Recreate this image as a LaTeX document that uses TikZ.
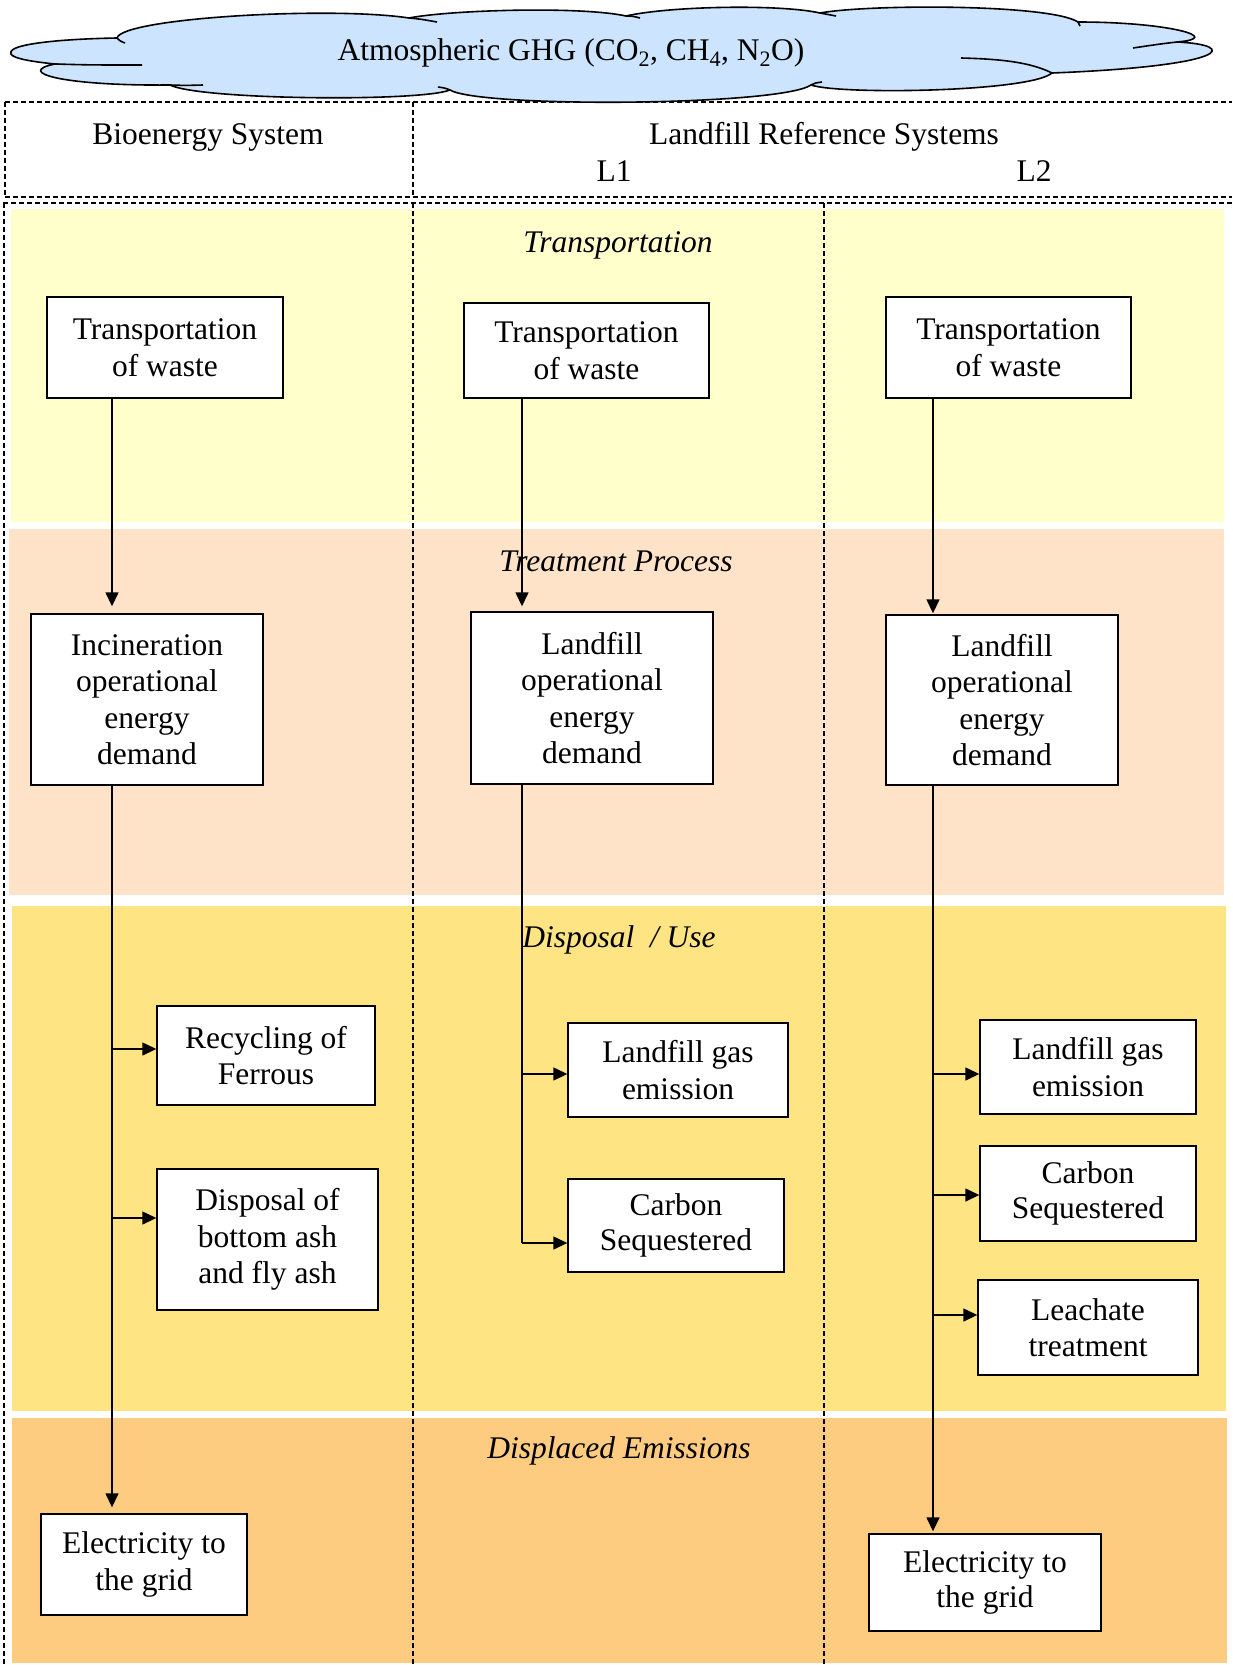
\documentclass[tikz,border=0pt]{standalone}
\usepackage{fontspec}
\setmainfont{Liberation Serif}
\usetikzlibrary{arrows.meta}
\definecolor{bandA}{RGB}{255,255,204}
\definecolor{bandB}{RGB}{254,227,201}
\definecolor{bandC}{RGB}{254,228,130}
\definecolor{bandD}{RGB}{254,204,128}
\definecolor{cloudblue}{RGB}{204,228,253}
\begin{document}
\begin{tikzpicture}[x=1pt,y=-1pt,
 box/.style={draw, fill=white, line width=1.4pt, align=center, inner sep=0pt, font=\fontsize{31.5}{36.5}\selectfont},
 lbl/.style={font=\fontsize{31.5}{36.5}\selectfont\itshape, inner sep=0pt},
 hdr/.style={font=\fontsize{31.5}{36.5}\selectfont, inner sep=0pt},
 arr/.style={line width=1.4pt, -{Triangle[length=14pt,width=13pt]}},
 ln/.style={line width=1.4pt},
 dline/.style={line width=1.2pt, dash pattern=on 5pt off 3pt},
 cloudline/.style={line width=1.6pt},
]
\useasboundingbox (0,0) rectangle (1232,1665);

% bands
\fill[bandA] (11,209) rectangle (1224,522);
\fill[bandB] (9,529) rectangle (1224,895);
\fill[bandC] (12,906) rectangle (1226,1411);
\fill[bandD] (12,1418) rectangle (1227,1663);

% dashed frames
\draw[dline] (5,102) -- (1232,102);
\draw[dline] (5,197) -- (1232,197);
\draw[dline] (5,102) -- (5,197);
\draw[dline] (413,102) -- (413,197);
\draw[dline] (3,203) -- (1232,203);
\draw[dline] (4,203) -- (4,1665);
\draw[dline, line width=1.1pt] (413,203) -- (413,1665);
\draw[dline, line width=1.1pt] (824,203) -- (824,1665);

% cloud
\path[draw, cloudline, fill=cloudblue]
 (11,52) .. controls (12,44) and (60,39) .. (117,38)
 .. controls (122,18) and (330,6) .. (409,18)
 .. controls (450,10) and (580,6) .. (626,16)
 .. controls (670,6) and (780,4) .. (820,13)
 .. controls (870,4) and (1050,4) .. (1078,22)
 .. controls (1170,22) and (1225,38) .. (1177,42)
 .. controls (1240,45) and (1230,66) .. (1052,73)
 .. controls (1030,92) and (840,95) .. (811,85)
 .. controls (780,106) and (480,108) .. (450,90)
 .. controls (420,102) and (200,100) .. (170,85)
 .. controls (60,86) and (15,72) .. (55,64)
 .. controls (25,61) and (8,57) .. (11,52) -- cycle;
\draw[cloudline] (55,64) .. controls (90,65) .. (142,65);
\draw[cloudline] (117,38) .. controls (120,41) .. (125,43);
\draw[cloudline] (170,85) .. controls (185,85.5) .. (203,85);
\draw[cloudline] (409,18) .. controls (420,19) .. (437,22);
\draw[cloudline] (626,16) .. controls (632,16) .. (640,18);
\draw[cloudline] (820,13) .. controls (828,14) .. (836,16);
\draw[cloudline] (1078,22) .. controls (1079,24) .. (1080,26);
\draw[cloudline] (1177,42) .. controls (1160,44) .. (1133,48);
\draw[cloudline] (1052,73) .. controls (1030,62) and (1000,59) .. (961,58);
\draw[cloudline] (811,85) .. controls (815,83) .. (822,82);
\draw[cloudline] (450,90) .. controls (445,88) .. (438,87);
\node[hdr] (ghg) at (571,53) {Atmospheric GHG (CO\textsubscript{2}, CH\textsubscript{4}, N\textsubscript{2}O)};

% headers
\node[hdr] (hBio) at (208,137) {Bioenergy System};
\node[hdr] (hLand) at (824,137) {Landfill Reference Systems};
\node[hdr] (hL1) at (614,171) {L1};
\node[hdr] (hL2) at (1034,171) {L2};

% stage labels
\node[lbl] (lT) at (618,245) {Transportation};
\node[lbl] (lTP) at (616,561) {Treatment Process};
\node[lbl] (lDU) at (619,940) {Disposal\ \ / Use};
\node[lbl] (lDE) at (619,1451) {Displaced Emissions};

% boxes
\node[box, minimum width=236pt, minimum height=101pt] (LT) at (165,347.5) {Transportation\\of waste};
\node[box, minimum width=232pt, minimum height=171pt] (LI) at (147,699.5) {Incineration\\operational\\energy\\demand};
\node[box, minimum width=218pt, minimum height=99pt] (LR) at (266,1055.5) {Recycling of\\Ferrous};
\node[box, minimum width=221pt, minimum height=141pt] (LD) at (267.5,1239.5) {Disposal of\\bottom ash\\and fly ash};
\node[box, minimum width=206pt, minimum height=101pt] (LE) at (144,1564.5) {Electricity to\\the grid};

\node[box, minimum width=245pt, minimum height=95pt] (MT) at (586.5,350.5) {Transportation\\of waste};
\node[box, minimum width=242pt, minimum height=172pt] (ML) at (592,698) {Landfill\\operational\\energy\\demand};
\node[box, minimum width=220pt, minimum height=94pt] (MG) at (678,1070) {Landfill gas\\emission};
\node[box, minimum width=216pt, minimum height=93pt] (MC) at (676,1225.5) {\raisebox{-5pt}{\begin{tabular}{@{}c@{}}Carbon\\[-1.5pt]Sequestered\end{tabular}}};

\node[box, minimum width=245pt, minimum height=101pt] (RT) at (1008.5,347.5) {Transportation\\of waste};
\node[box, minimum width=232pt, minimum height=170pt] (RL) at (1002,700) {Landfill\\operational\\energy\\demand};
\node[box, minimum width=216pt, minimum height=94pt] (RG) at (1088,1067) {Landfill gas\\emission};
\node[box, minimum width=216pt, minimum height=95pt] (RC) at (1088,1193.5) {\raisebox{-4pt}{\begin{tabular}{@{}c@{}}Carbon\\[-1.5pt]Sequestered\end{tabular}}};
\node[box, minimum width=220pt, minimum height=95pt] (RLe) at (1088,1327.5) {Leachate\\treatment};
\node[box, minimum width=232pt, minimum height=97pt] (RE) at (985,1582.5) {\raisebox{-3pt}{\begin{tabular}{@{}c@{}}Electricity to\\[-1.5pt]the grid\end{tabular}}};

% connectors
\coordinate (xL) at (112,0);
\coordinate (xM) at (522,0);
\coordinate (xR) at (933,0);
\draw[arr, shorten >=7pt] (LT.south -| xL) -- (LI.north -| xL);
\draw[arr, shorten >=6pt] (LI.south -| xL) -- (LE.north -| xL);
\coordinate (bL1) at (112,1049);
\coordinate (bL2) at (112,1218);
\draw[arr] (bL1) -- (bL1 -| LR.west);
\draw[arr] (bL2) -- (bL2 -| LD.west);

\draw[arr, shorten >=5pt] (MT.south -| xM) -- (ML.north -| xM);
\coordinate (bM1) at (522,1074);
\coordinate (bM2) at (522,1243);
\draw[ln] (ML.south -| xM) -- (bM2);
\draw[arr] (bM1) -- (bM1 -| MG.west);
\draw[arr] (bM2) -- (bM2 -| MC.west);

\draw[arr, shorten >=1pt] (RT.south -| xR) -- (RL.north -| xR);
\draw[arr, shorten >=2pt] (RL.south -| xR) -- (RE.north -| xR);
\coordinate (bR1) at (933,1074);
\coordinate (bR2) at (933,1195);
\coordinate (bR3) at (933,1315);
\draw[arr] (bR1) -- (bR1 -| RG.west);
\draw[arr] (bR2) -- (bR2 -| RC.west);
\draw[arr] (bR3) -- (bR3 -| RLe.west);
\end{tikzpicture}
\end{document}
